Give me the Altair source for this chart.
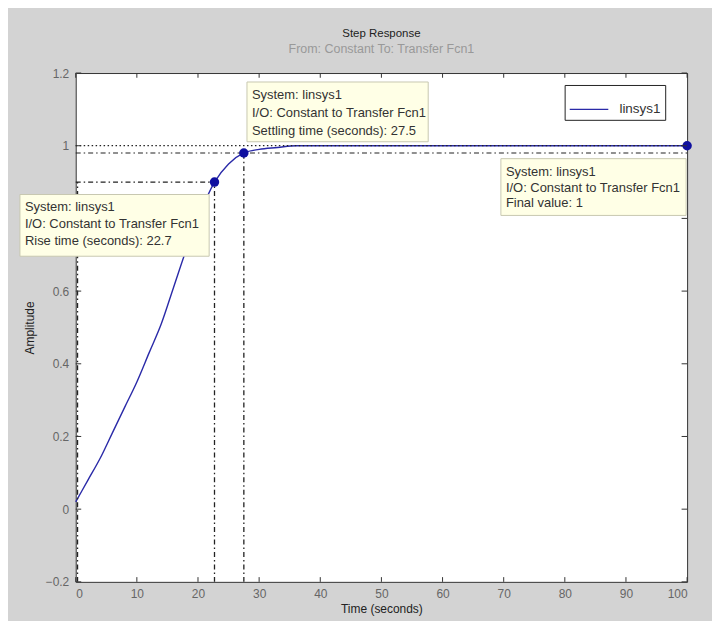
import altair as alt
import pandas as pd

# ---- data ----
t_vals = [0, 2, 4, 6, 8, 10, 12, 14, 16, 18, 20, 22.7, 25, 27.5, 30, 33, 36, 40, 50, 60, 70, 80, 90, 100]
y_vals = [0.02, 0.08, 0.14, 0.21, 0.28, 0.35, 0.43, 0.51, 0.61, 0.71, 0.80, 0.90, 0.95, 0.98, 0.99, 0.995, 1.0, 1.0, 1.0, 1.0, 1.0, 1.0, 1.0, 1.0]
series_name = "linsys1"

marker_t = [22.7, 27.5, 100]
marker_y = [0.9, 0.98, 1.0]

x_ticks = [0, 10, 20, 30, 40, 50, 60, 70, 80, 90, 100]
y_ticks = [-0.2, 0, 0.2, 0.4, 0.6, 0.8, 1.0, 1.2]

rise_time = 22.7
settle_time = 27.5
final_value = 1.0

FONT = "Liberation Sans, Arial"

curve = pd.DataFrame({"t": t_vals, "y": y_vals, "s": series_name})
markers = pd.DataFrame({"t": marker_t, "y": marker_y})

xs = alt.Scale(domain=[0, 100], nice=False)
ys = alt.Scale(domain=[-0.2, 1.2], nice=False)

AX = alt.Axis(values=x_ticks, tickSize=0, domain=False, grid=False,
              labelFontSize=12, labelColor="#666", labelPadding=7,
              titleFontSize=12, titleColor="#222", titleFontWeight="normal",
              titlePadding=4, labelFont=FONT, titleFont=FONT)
# the 0.8 label is hidden behind the rise-time data tip in the original
AY = alt.Axis(values=y_ticks, tickSize=0, domain=False, grid=False,
              labelExpr="datum.value == 0 ? '0' : datum.value == 1 ? '1' : datum.value == 0.8 ? '' : format(datum.value, '.1f')",
              labelFontSize=12, labelColor="#666", labelPadding=7,
              titleFontSize=12, titleColor="#222", titleFontWeight="normal",
              titlePadding=9, labelFont=FONT, titleFont=FONT)
X = alt.X("t:Q", scale=xs, title="Time (seconds)", axis=AX)
Y = alt.Y("y:Q", scale=ys, title="Amplitude", axis=AY)

line = alt.Chart(curve).mark_line(strokeWidth=1.4, interpolate="monotone").encode(
    x=X, y=Y,
    color=alt.Color("s:N", scale=alt.Scale(range=["#2a2aa8"]),
                    legend=alt.Legend(orient="none", legendX=491, legendY=12, title=None,
                                      strokeColor="#222", fillColor="white", padding=4,
                                      symbolType="stroke", symbolSize=1500, symbolStrokeWidth=1.4,
                                      labelOffset=10,
                                      labelFontSize=13.5, labelFont=FONT, labelColor="#333")))

# inward ticks (MATLAB style)
tb = pd.DataFrame({"t": x_ticks, "y": [-0.2] * len(x_ticks), "y1": [-0.187] * len(x_ticks)})
tt = pd.DataFrame({"t": x_ticks, "y": [1.2] * len(x_ticks), "y1": [1.187] * len(x_ticks)})
tl = pd.DataFrame({"y": y_ticks, "t": [0] * len(y_ticks), "t1": [0.9] * len(y_ticks)})
tr = pd.DataFrame({"y": y_ticks, "t": [100] * len(y_ticks), "t1": [99.1] * len(y_ticks)})
tick_bottom = alt.Chart(tb).mark_rule(color="#333").encode(x=X, y=Y, y2="y1:Q")
tick_top = alt.Chart(tt).mark_rule(color="#333").encode(x=X, y=Y, y2="y1:Q")
tick_left = alt.Chart(tl).mark_rule(color="#333").encode(y=Y, x=X, x2="t1:Q")
tick_right = alt.Chart(tr).mark_rule(color="#333").encode(y=Y, x=X, x2="t1:Q")

# characteristic lines
final_df = pd.DataFrame({"y": [final_value], "t": [0], "t1": [100]})
dd_df = pd.DataFrame({"y": [0.98, 0.9], "t": [0, 0], "t1": [100, rise_time]})
final_line = alt.Chart(final_df).mark_rule(
    color="#222", strokeDash=[1.5, 2.5], strokeWidth=1.2).encode(y=Y, x=X, x2="t1:Q")
dd_lines = alt.Chart(dd_df).mark_rule(
    color="#222", strokeDash=[5, 3, 1.5, 3], strokeWidth=1.2).encode(y=Y, x=X, x2="t1:Q")

v_df = pd.DataFrame({"t": [0.3, rise_time, settle_time],
                     "y": [-0.2, -0.2, -0.2],
                     "y1": [0.9, 0.9, 0.98]})
v_rules = alt.Chart(v_df).mark_rule(
    color="#222", strokeDash=[5, 3, 1.5, 3], strokeWidth=1.3).encode(x=X, y=Y, y2="y1:Q")

pts = alt.Chart(markers).mark_point(filled=True, size=90, color="#1010a0", opacity=1).encode(
    x=X, y=Y)

# data tip boxes (pixel positions relative to plot area)
def tip(x0, y0, w, h, lines, dy=17):
    one = pd.DataFrame({"a": [0]})
    layers = [alt.Chart(one).mark_rect(
        fill="#ffffe6", stroke="#c8c8b0", strokeWidth=1).encode(
        x=alt.value(x0), x2=alt.value(x0 + w), y=alt.value(y0), y2=alt.value(y0 + h))]
    for i, s in enumerate(lines):
        layers.append(alt.Chart(one).mark_text(
            align="left", baseline="middle", fontSize=13, font=FONT, color="#333", text=s).encode(
            x=alt.value(x0 + 5), y=alt.value(y0 + 13 + dy * i)))
    return layers

tip_settle = tip(172, 9, 182, 60, ["System: linsys1", "I/O: Constant to Transfer Fcn1",
                                   "Settling time (seconds): 27.5"], dy=18)
tip_rise = tip(-56, 122, 190, 62, ["System: linsys1", "I/O: Constant to Transfer Fcn1",
                                   "Rise time (seconds): 22.7"], dy=17)
tip_final = tip(427, 86, 186, 57, ["System: linsys1", "I/O: Constant to Transfer Fcn1",
                                   "Final value: 1"], dy=16)

chart = alt.layer(
    line, dd_lines, final_line, v_rules, pts,
    tick_bottom, tick_top, tick_left, tick_right,
    *tip_settle, *tip_rise, *tip_final,
).properties(
    width=614, height=511,
    title=alt.TitleParams("Step Response", subtitle="From: Constant  To: Transfer Fcn1",
                          font=FONT, fontSize=11.5, fontWeight="normal", color="#222",
                          subtitleFont=FONT, subtitleFontSize=12.5, subtitleColor="#999",
                          subtitlePadding=3, offset=12, anchor="middle"),
    background="#d3d3d3",
    autosize=alt.AutoSizeParams(type="none"),
    padding={"left": 68, "top": 64, "right": 25, "bottom": 38},
).configure_view(stroke="#333", strokeWidth=1, fill="white").configure_axis(grid=False)

chart.save("out.html", embed_options={"renderer": "svg", "actions": False})
